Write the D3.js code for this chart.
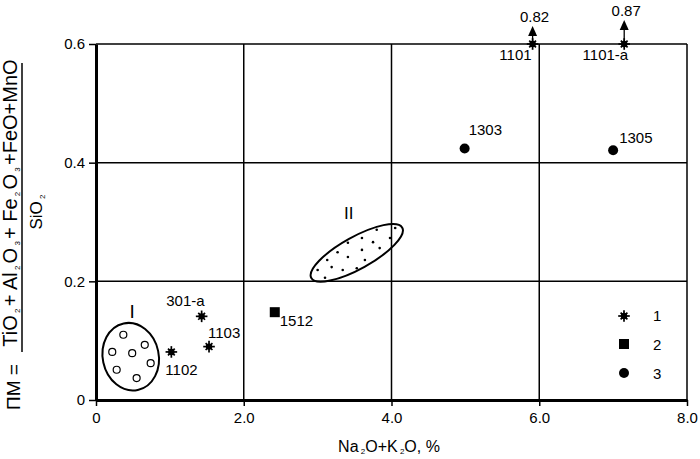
<html>
<head>
<title>PM diagram</title>
<script src="https://cdn.jsdelivr.net/npm/d3@7/dist/d3.min.js"></script>
<style>
body { margin: 0; background: #fff; }
svg text { font-family: 'Liberation Sans', Arial, sans-serif; fill: #000; }
.grid line { stroke: #000; stroke-width: 1.5; }
</style>
</head>
<body>
<svg width="700" height="459"></svg>
<script>

// group 1 samples (stars)
var starNames = ["1102", "1103", "301-a", "1101", "1101-a"];
var starX = [1.02, 1.53, 1.43, 5.91, 7.15];
var starY = [0.081, 0.090, 0.141, 0.6, 0.6];
// group 2 (square)
var squareNames = ["1512"];
var squareX = [2.42];
var squareY = [0.148];
// group 3 (circles)
var circleNames = ["1303", "1305"];
var circleX = [4.99, 7.0];
var circleY = [0.424, 0.421];
// off-scale values shown with arrows
var offNames = ["1101", "1101-a"];
var offValues = [0.82, 0.87];

var xTicks = [0, 2, 4, 6, 8];
var xTickLabels = ["0", "2.0", "4.0", "6.0", "8.0"];
var yTicks = [0, 0.2, 0.4, 0.6];
var yTickLabels = ["0", "0.2", "0.4", "0.6"];

// field I (open circles) and field II (dots)
var field1X = [0.37, 0.66, 0.22, 0.49, 0.74, 0.28, 0.55];
var field1Y = [0.110, 0.093, 0.081, 0.079, 0.062, 0.051, 0.037];
var field2X = [3.80, 4.05, 3.60, 3.98, 3.41, 3.75, 3.27, 3.60, 3.84, 3.13, 3.41, 3.64, 3.00, 3.19, 3.34, 3.53, 3.10];
var field2Y = [0.287, 0.290, 0.273, 0.273, 0.265, 0.266, 0.249, 0.253, 0.256, 0.236, 0.241, 0.236, 0.219, 0.224, 0.219, 0.222, 0.206];

var legendLabels = ["1", "2", "3"];

var svg = d3.select("svg");
var x = d3.scaleLinear().domain([0, 8]).range([96, 687]);
var y = d3.scaleLinear().domain([0, 0.6]).range([400, 44]);

// label offsets (px) relative to the marker
var labelPos = {
	"1102": [-6, 23, "start"], "1103": [-1, -9, "start"], "301-a": [3, -10, "end"],
	"1101": [-1, 16, "end"], "1101-a": [4, 16, "end"], "1512": [5, 14, "start"],
	"1303": [4, -13, "start"], "1305": [6, -7, "start"]
};

// grid
var grid = svg.append("g").attr("class", "grid");
grid.selectAll("line.v").data(xTicks.slice(1)).enter().append("line")
	.attr("class", "v")
	.attr("x1", d => x(d)).attr("x2", d => x(d)).attr("y1", y(0)).attr("y2", y(0.6));
grid.selectAll("line.h").data(yTicks.slice(1)).enter().append("line")
	.attr("class", "h")
	.attr("x1", x(0)).attr("x2", x(8)).attr("y1", d => y(d)).attr("y2", d => y(d));

// axes
var xAxis = svg.append("g").attr("transform", "translate(0," + y(0) + ")")
	.call(d3.axisBottom(x).tickValues(xTicks).tickFormat((d, i) => xTickLabels[i]).tickSizeInner(6).tickSizeOuter(0).tickPadding(6));
var yAxis = svg.append("g").attr("transform", "translate(" + x(0) + ",0)")
	.call(d3.axisLeft(y).tickValues(yTicks).tickFormat((d, i) => yTickLabels[i]).tickSizeInner(7).tickSizeOuter(0).tickPadding(4));
[xAxis, yAxis].forEach(function (a) {
	a.select(".domain").attr("stroke", "#000").attr("stroke-width", 3);
	a.selectAll(".tick line").attr("stroke", "#000").attr("stroke-width", 1.5);
	a.selectAll("text").style("font-size", "15px").attr("fill", "#000");
});

// field I
var f1 = svg.append("g");
f1.append("ellipse").attr("cx", 0).attr("cy", 0).attr("rx", 28).attr("ry", 34)
	.attr("transform", "translate(" + x(0.47) + "," + y(0.073) + ") rotate(-12)")
	.attr("fill", "none").attr("stroke", "#000").attr("stroke-width", 2);
f1.selectAll("circle").data(field1X).enter().append("circle")
	.attr("cx", d => x(d)).attr("cy", (d, i) => y(field1Y[i])).attr("r", 3.5)
	.attr("fill", "#fff").attr("stroke", "#000").attr("stroke-width", 1.2);
svg.append("text").attr("x", x(0.49)).attr("y", 318).attr("text-anchor", "middle")
	.style("font-size", "19px").text("I");

// field II
var f2 = svg.append("g");
f2.append("ellipse").attr("cx", 0).attr("cy", 0).attr("rx", 52).attr("ry", 16)
	.attr("transform", "translate(" + x(3.53) + "," + y(0.248) + ") rotate(-29)")
	.attr("fill", "none").attr("stroke", "#000").attr("stroke-width", 2);
f2.selectAll("circle").data(field2X).enter().append("circle")
	.attr("cx", d => x(d)).attr("cy", (d, i) => y(field2Y[i])).attr("r", 1.3).attr("fill", "#000");
svg.append("text").attr("x", x(3.42)).attr("y", 219).attr("text-anchor", "middle")
	.style("font-size", "17px").text("II");

// markers
function star(g, cx, cy) {
	var s = g.append("g").attr("transform", "translate(" + cx + "," + cy + ")");
	[0, 45, 90, 135].forEach(function (a) {
		var r = a % 90 ? 4.8 : 5.8, t = a * Math.PI / 180;
		s.append("line").attr("x1", -r * Math.cos(t)).attr("y1", -r * Math.sin(t))
			.attr("x2", r * Math.cos(t)).attr("y2", r * Math.sin(t))
			.attr("stroke", "#000").attr("stroke-width", 1.7);
	});
	s.append("circle").attr("r", 3.2).attr("fill", "#000");
}

// arrows for off-scale values (drawn under the stars)
var arrowLen = d3.scaleLinear().domain([0.82, 0.87]).range([18, 24]);
offNames.forEach(function (n, i) {
	var k = starNames.indexOf(n);
	var cx = x(starX[k]), cy = y(starY[k]), tip = cy - arrowLen(offValues[i]);
	svg.append("line").attr("x1", cx).attr("x2", cx).attr("y1", cy).attr("y2", tip + 8)
		.attr("stroke", "#000").attr("stroke-width", 1.3);
	svg.append("path").attr("d", "M" + cx + "," + tip + "L" + (cx + 4.5) + "," + (tip + 10) + "L" + (cx - 4.5) + "," + (tip + 10) + "Z")
		.attr("fill", "#000");
	svg.append("text").attr("x", cx + 2).attr("y", tip - 4).attr("text-anchor", "middle")
		.style("font-size", "15px").text(offValues[i].toFixed(2));
});

var marks = svg.append("g");
starNames.forEach(function (n, i) { star(marks, x(starX[i]), y(starY[i])); });
marks.selectAll("rect.sq").data(squareX).enter().append("rect")
	.attr("class", "sq")
	.attr("x", d => x(d) - 5).attr("y", (d, i) => y(squareY[i]) - 5).attr("width", 10).attr("height", 10).attr("fill", "#000");
marks.selectAll("circle.dot").data(circleX).enter().append("circle")
	.attr("class", "dot")
	.attr("cx", d => x(d)).attr("cy", (d, i) => y(circleY[i])).attr("r", 5).attr("fill", "#000");

// point labels
var allNames = starNames.concat(squareNames, circleNames);
var allX = starX.concat(squareX, circleX);
var allY = starY.concat(squareY, circleY);
allNames.forEach(function (n, i) {
	var p = labelPos[n];
	svg.append("text").attr("x", x(allX[i]) + p[0]).attr("y", y(allY[i]) + p[1])
		.attr("text-anchor", p[2]).style("font-size", "15px").text(n);
});

// legend
var lg = svg.append("g").attr("transform", "translate(624,0)");
star(lg, 0, 316);
lg.append("rect").attr("x", -5).attr("y", 339).attr("width", 10).attr("height", 10).attr("fill", "#000");
lg.append("circle").attr("cx", 0).attr("cy", 373).attr("r", 5).attr("fill", "#000");
lg.selectAll("text").data(legendLabels).enter().append("text")
	.attr("x", 29).attr("y", (d, i) => 321 + i * 29).style("font-size", "15px").text(d => d);

// x axis title
var xt = svg.append("text").attr("x", 389).attr("y", 452).attr("text-anchor", "middle").style("font-size", "16px");
xt.append("tspan").text("Na");
xt.append("tspan").attr("font-size", "8px").attr("dy", 2).text(" 2");
xt.append("tspan").attr("dy", -2).text("O+K");
xt.append("tspan").attr("font-size", "8px").attr("dy", 2).text(" 2");
xt.append("tspan").attr("dy", -2).text("O, %");

// y axis title: PM = numerator / SiO2
var yt = svg.append("g").attr("transform", "translate(17,203) rotate(-90)");
var num = yt.append("text").attr("text-anchor", "middle").style("font-size", "20px");
var parts = [["TiO", ""], ["2", "s"], ["+ Al", ""], ["2", "s"], ["O", ""], ["3", "s"], ["+ Fe", ""], ["2", "s"], ["O", ""], ["3", "s"], ["+FeO+MnO", ""]];
parts.forEach(function (p) {
	var t = num.append("tspan").text(p[1] ? " " + p[0] + " " : p[0]);
	if (p[1]) t.attr("font-size", "8px").attr("dy", 3);
	else t.attr("dy", -3);
});
num.select("tspan").attr("dy", 0);
svg.append("line").attr("x1", 22).attr("x2", 22).attr("y1", 63).attr("y2", 352)
	.attr("stroke", "#000").attr("stroke-width", 1.5);
var den = svg.append("text").attr("transform", "translate(42,212) rotate(-90)")
	.attr("text-anchor", "middle").style("font-size", "17px");
den.append("tspan").text("SiO");
den.append("tspan").attr("font-size", "8px").attr("dy", 3).text(" 2");
svg.append("text").attr("transform", "translate(20,387) rotate(-90)")
	.attr("text-anchor", "middle").style("font-size", "19px").text("ПМ =");

</script>
</body>
</html>
